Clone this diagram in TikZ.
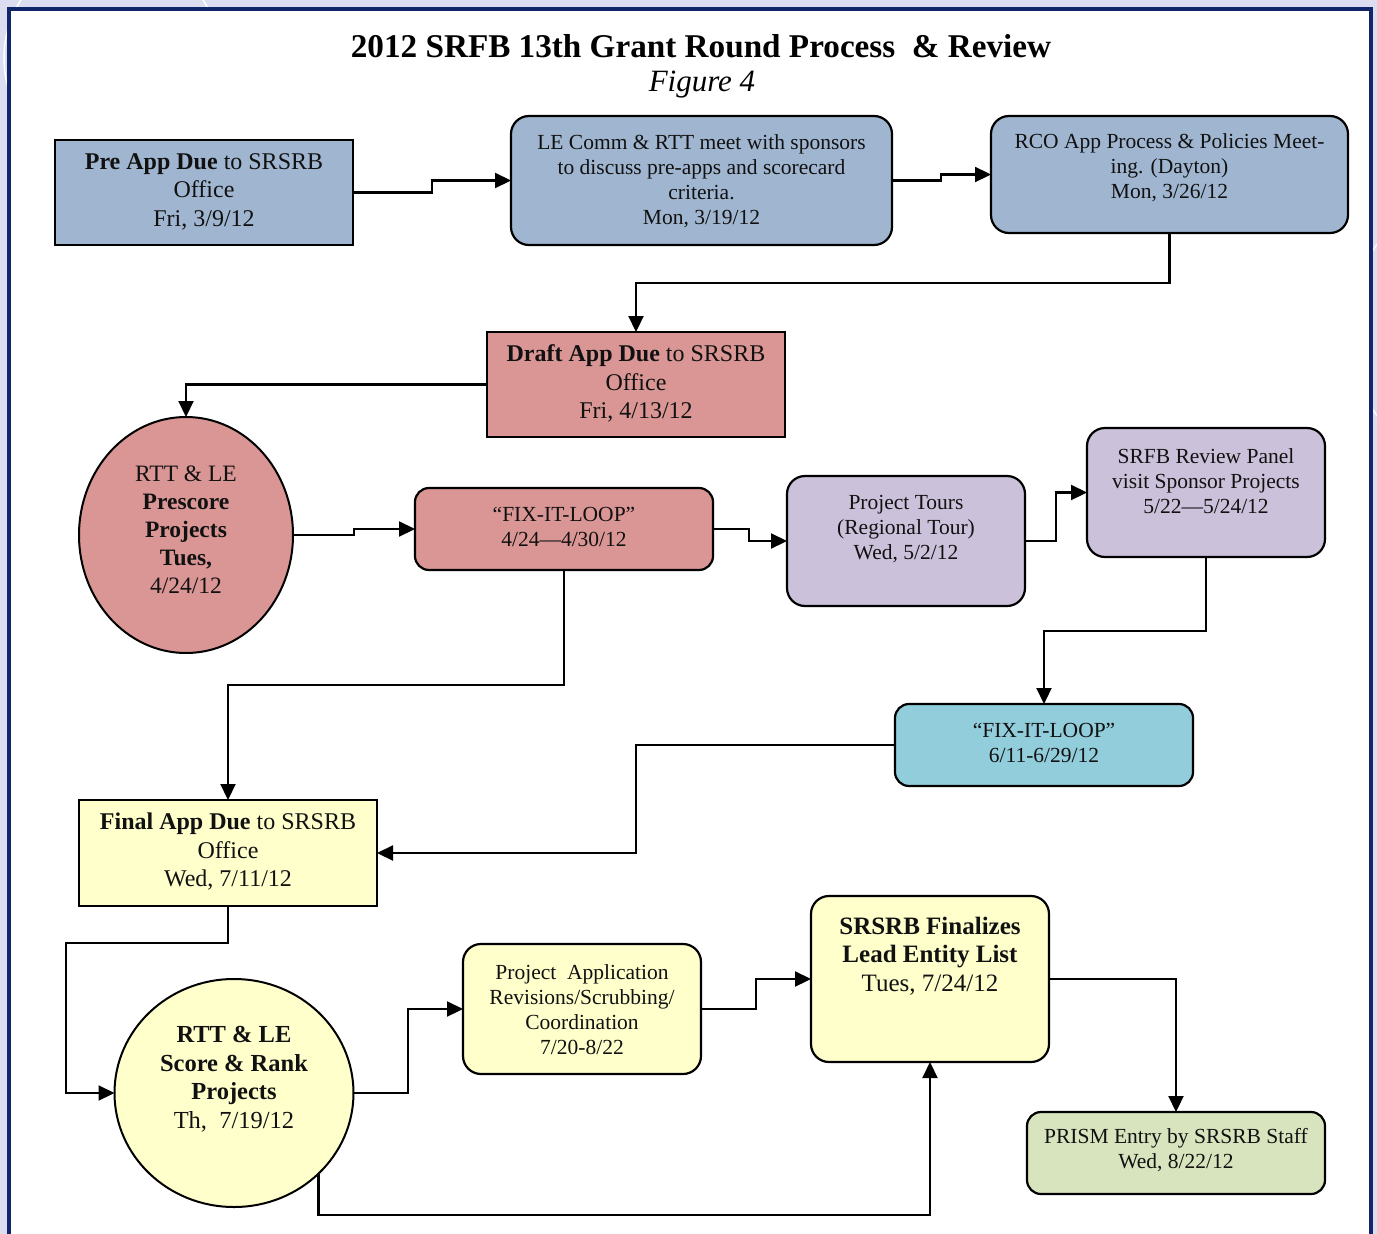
\documentclass[tikz,border=0pt]{standalone}
\usepackage{fontspec}
\setmainfont{Liberation Serif}
\usetikzlibrary{arrows.meta,shapes.geometric}
\definecolor{bgl}{HTML}{DCDDF1}
\definecolor{navy}{HTML}{10256A}
\definecolor{txtc}{HTML}{111111}
\definecolor{cblue}{HTML}{A0B6D0}
\definecolor{cpink}{HTML}{D99694}
\definecolor{clav}{HTML}{CCC1DA}
\definecolor{cteal}{HTML}{92CDDC}
\definecolor{cyel}{HTML}{FFFFCC}
\definecolor{cgreen}{HTML}{D7E4BD}
\tikzset{
  box/.style={draw=black, line width=2.2pt, inner sep=0pt, outer sep=0pt, anchor=north west},
  rbox/.style={box, rounded corners=18pt},
  ebox/.style={draw=black, line width=2pt, ellipse, inner sep=0pt, outer sep=0pt},
  conn/.style={line width=2.2pt, -{Triangle[length=16pt,width=15pt]}},
  tsm/.style={font=\fontsize{21.5}{25}\selectfont, align=center, inner sep=0pt, text=txtc},
  tlg/.style={font=\fontsize{24}{28.5}\selectfont, align=center, inner sep=0pt, text=txtc}
}
\begin{document}
\begin{tikzpicture}[x=1pt,y=-1pt]
\useasboundingbox (0,0) rectangle (1377,1234);
\fill[bgl] (0,0) rectangle (1377,1234);
\draw[white, line width=1.5pt] (112,58) circle[radius=108];
\draw[white, line width=1.2pt] (1500,330) circle[radius=150];
\draw[navy, line width=4pt, fill=white] (9,9) rectangle (1371,1260);

% title
\node[font=\bfseries\fontsize{33.2}{37}\selectfont, text=black, inner sep=0pt] (title) at (701,46) {2012 SRFB 13th Grant Round Process \ \& Review};
\node[font=\itshape\fontsize{31}{34}\selectfont, text=black, inner sep=0pt] (fig) at (702,85) {Figure 4};

% row 1
\node[box, fill=cblue, minimum width=298pt, minimum height=105pt] (pre) at (55,140) {};
\node[tlg] (pre-t) at (204,191.5) {\textbf{Pre App Due} to SRSRB\\Office\\Fri, 3/9/12};

\node[rbox, fill=cblue, minimum width=381pt, minimum height=129pt] (le) at (511,116) {};
\node[tsm] (le-t) at (701.5,181.5) {LE Comm \& RTT meet with sponsors\\to discuss pre-apps and scorecard\\criteria.\\Mon, 3/19/12};

\node[rbox, fill=cblue, minimum width=357pt, minimum height=117pt] (rco) at (991,116) {};
\node[tsm] (rco-t) at (1169.5,168) {RCO App Process \& Policies Meet-\\ing. (Dayton)\\Mon, 3/26/12};

% row 2
\node[box, fill=cpink, minimum width=298pt, minimum height=105pt] (draft) at (487,332) {};
\node[tlg] (draft-t) at (636,383.5) {\textbf{Draft App Due} to SRSRB\\Office\\Fri, 4/13/12};

% row 3
\node[ebox, fill=cpink, minimum width=214pt, minimum height=236pt] (ps) at (186,535) {};
\node[tlg, font=\fontsize{23.5}{28}\selectfont] (ps-t) at (186,530) {RTT \& LE\\\textbf{Prescore}\\\textbf{Projects}\\\textbf{Tues,}\\4/24/12};

\node[rbox, rounded corners=14pt, fill=cpink, minimum width=298pt, minimum height=82pt] (fix1) at (415,488) {};
\node[tsm] (fix1-t) at (564,527) {“FIX-IT-LOOP”\\4/24—4/30/12};

\node[rbox, fill=clav, minimum width=238pt, minimum height=130pt] (tours) at (787,476) {};
\node[tsm] (tours-t) at (906,529.5) {Project Tours\\(Regional Tour)\\Wed, 5/2/12};

\node[rbox, fill=clav, minimum width=238pt, minimum height=129pt] (panel) at (1087,428) {};
\node[tsm] (panel-t) at (1206,481) {SRFB Review Panel\\visit Sponsor Projects\\5/22—5/24/12};

\node[rbox, rounded corners=14pt, fill=cteal, minimum width=298pt, minimum height=82pt] (fix2) at (895,704) {};
\node[tsm] (fix2-t) at (1044,743) {“FIX-IT-LOOP”\\6/11-6/29/12};

% row 4
\node[box, fill=cyel, minimum width=298pt, minimum height=106pt] (final) at (79,800) {};
\node[tlg] (final-t) at (228,852) {\textbf{Final App Due} to SRSRB\\Office\\Wed, 7/11/12};

% row 5
\node[ebox, fill=cyel, minimum width=239pt, minimum height=228pt] (sr) at (234,1093) {};
\node[tlg, font=\fontsize{24.5}{28.5}\selectfont] (sr-t) at (234,1079) {\textbf{RTT \& LE}\\\textbf{Score \& Rank}\\\textbf{Projects}\\Th,\ \ 7/19/12};

\node[rbox, fill=cyel, minimum width=238pt, minimum height=130pt] (pa) at (463,944) {};
\node[tsm] (pa-t) at (582,1009.5) {Project\ \ Application\\Revisions/Scrubbing/\\Coordination\\7/20-8/22};

\node[rbox, fill=cyel, minimum width=238pt, minimum height=166pt] (sf) at (811,896) {};
\node[tlg, font=\fontsize{25}{28.5}\selectfont] (sf-t) at (930,956) {\textbf{SRSRB Finalizes}\\\textbf{Lead Entity List}\\Tues, 7/24/12};

\node[rbox, rounded corners=14pt, fill=cgreen, minimum width=298pt, minimum height=82pt] (prism) at (1027,1112) {};
\node[tsm] (prism-t) at (1176,1150.5) {PRISM Entry by SRSRB Staff\\Wed, 8/22/12};

% connectors
\draw[conn] (pre.east) -- (pre.east -| 432,0) -- (432,0 |- le.west) -- (le.west);
\draw[conn] (le.east) -- (le.east -| 941,0) -- (941,0 |- rco.west) -- (rco.west);
\draw[conn] (rco.south) -- (rco.south |- 0,283) -| (draft.north);
\draw[conn] (draft.west) -| (ps.north);
\draw[conn] (ps.east) -- (ps.east -| 354,0) -- (354,0 |- fix1.west) -- (fix1.west);
\draw[conn] (fix1.east) -- (fix1.east -| 749,0) -- (749,0 |- tours.west) -- (tours.west);
\draw[conn] (tours.east) -- (tours.east -| 1056,0) -- (1056,0 |- panel.west) -- (panel.west);
\draw[conn] (panel.south) -- (panel.south |- 0,631) -| (fix2.north);
\draw[conn] (fix1.south) -- (fix1.south |- 0,685) -| (final.north);
\draw[conn] (fix2.west) -- (fix2.west -| 636,0) |- (final.east);
\draw[conn] (final.south) -- (final.south |- 0,943) -- (66,943) |- (sr.west);
\draw[conn] (sr.east) -- (sr.east -| 408,0) |- (pa.west);
\draw[conn] (pa.east) -- (pa.east -| 756,0) |- (sf.west);
\draw[conn] (sf.east) -| (prism.north);
\draw[conn] (sr.south east) -- (sr.south east |- 0,1215) -| (sf.south);
\end{tikzpicture}
\end{document}
